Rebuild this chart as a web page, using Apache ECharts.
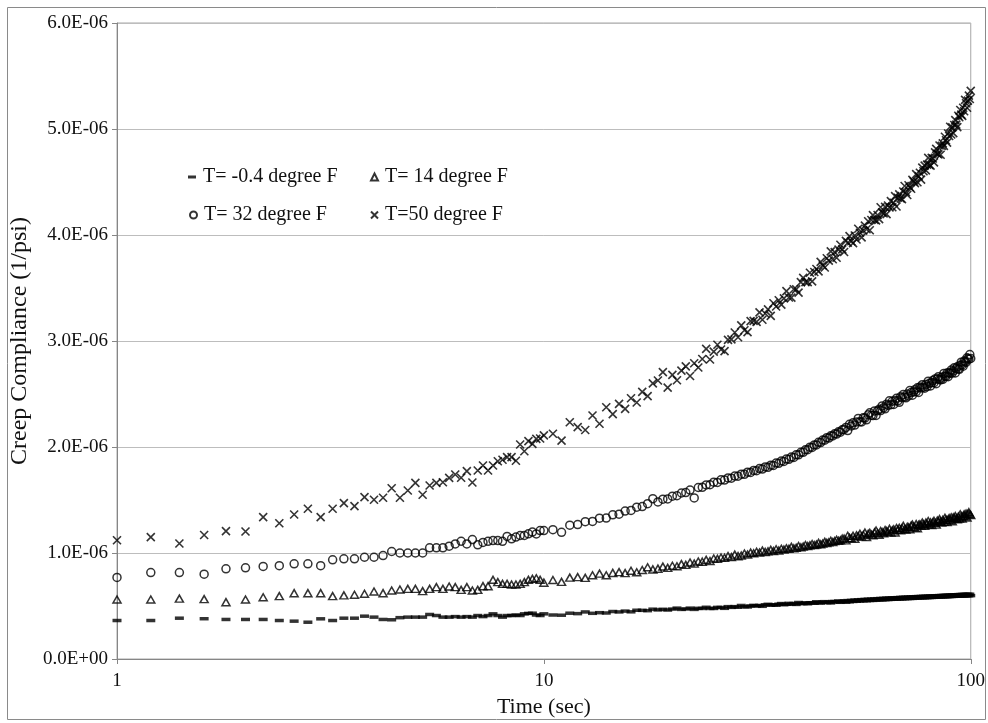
<!DOCTYPE html>
<html>
<head>
<meta charset="utf-8">
<script src="https://cdn.jsdelivr.net/npm/echarts@6/dist/echarts.min.js"></script>
<style>
html,body{margin:0;padding:0;background:#fff;}
#chart{width:988px;height:723px;}
</style>
</head>
<body>
<div id="chart"></div>
<script>
// Time (sec)
const timeSec = [
1,1.2,1.4,1.6,1.8,2,2.2,2.4,2.6,2.8,3,3.2,3.4,3.6,3.8,4,4.2,4.4,4.6,4.8,5,5.2,5.4,5.6,5.8,6,6.2,6.4,6.6,6.8,7,7.2,7.4,7.6,7.8,8,8.2,8.4,8.6,8.8,9,9.2,9.4,9.6,9.8,10,
10.5,11,11.5,12,12.5,13,13.5,14,14.5,15,15.5,16,16.5,17,17.5,18,18.5,19,19.5,20,20.5,21,21.5,22,22.5,23,23.5,24,24.5,25,25.5,26,26.5,27,27.5,28,28.5,29,29.5,30,
30.5,31,31.5,32,32.5,33,33.5,34,34.5,35,35.5,36,36.5,37,37.5,38,38.5,39,39.5,40,40.5,41,41.5,42,42.5,43,43.5,44,44.5,45,45.5,46,46.5,47,47.5,48,48.5,49,49.5,50,
50.5,51,51.5,52,52.5,53,53.5,54,54.5,55,55.5,56,56.5,57,57.5,58,58.5,59,59.5,60,60.5,61,61.5,62,62.5,63,63.5,64,64.5,65,65.5,66,66.5,67,67.5,68,68.5,69,69.5,70,
70.5,71,71.5,72,72.5,73,73.5,74,74.5,75,75.5,76,76.5,77,77.5,78,78.5,79,79.5,80,80.5,81,81.5,82,82.5,83,83.5,84,84.5,85,85.5,86,86.5,87,87.5,88,88.5,89,89.5,90,
90.5,91,91.5,92,92.5,93,93.5,94,94.5,95,95.5,96,96.5,97,97.5,98,98.5,99,99.5,100
];

// Creep compliance, read in units of 1E-06 1/psi
const compTm04 = [
.363,.363,.385,.38,.373,.373,.373,.363,.357,.347,.379,.363,.385,.385,.404,.395,.373,.37,.39,.395,.395,.395,.42,.41,.395,.395,.4,.395,.4,.395,.41,.4,.41,.426,.41,.395,.41,.41,.415,.41,.426,.43,.432,.415,.41,.426,
.415,.413,.432,.428,.444,.431,.437,.434,.448,.444,.452,.445,.46,.459,.456,.47,.463,.469,.462,.471,.48,.468,.472,.48,.468,.478,.477,.488,.477,.477,.487,.486,.478,.494,.487,.494,.488,.505,.494,.491,
.501,.506,.5,.505,.497,.511,.516,.508,.512,.507,.517,.523,.512,.516,.525,.517,.523,.515,.533,.524,.523,.53,.521,.531,.53,.526,.54,.531,.528,.536,.541,.532,.537,.529,.542,.542,.538,.547,.535,.543,
.548,.536,.551,.54,.553,.543,.556,.545,.558,.547,.56,.549,.562,.55,.564,.552,.565,.553,.567,.555,.569,.557,.571,.558,.572,.56,.574,.561,.575,.563,.577,.564,.578,.565,.579,.566,.581,.567,.582,.569,
.583,.57,.584,.571,.586,.572,.587,.573,.588,.575,.589,.576,.59,.577,.591,.578,.592,.579,.593,.58,.594,.581,.595,.582,.596,.583,.597,.584,.598,.585,.599,.586,.6,.587,.601,.588,.602,.589,.603,.59,
.604,.591,.605,.592,.606,.593,.607,.594,.608,.594,.609,.595,.609,.596,.61,.596,.611,.597,.611,.598
];
const compT14 = [
.561,.561,.57,.565,.536,.561,.583,.593,.621,.621,.621,.593,.6,.606,.615,.637,.621,.646,.656,.662,.662,.64,.662,.678,.662,.684,.678,.652,.678,.646,.652,.687,.687,.747,.725,.709,.709,.703,.703,.709,.725,.747,.756,.762,.747,.72,
.745,.728,.768,.772,.765,.79,.805,.79,.812,.82,.81,.832,.818,.84,.866,.845,.852,.872,.86,.88,.875,.895,.888,.91,.9,.92,.918,.935,.925,.948,.945,.958,.955,.97,.962,.985,.97,.976,.995,.985,
1.003,.998,1.012,1.005,1.022,1.01,1.015,1.03,1.018,1.035,1.022,1.04,1.032,1.045,1.04,1.058,1.044,1.05,1.066,1.054,1.06,1.075,1.065,1.072,1.085,1.076,1.08,1.095,1.083,1.09,1.105,1.095,1.1,1.115,1.104,1.112,1.125,1.114,1.12,1.135,
1.137,1.119,1.163,1.143,1.139,1.162,1.134,1.166,1.158,1.181,1.156,1.17,1.192,1.15,1.181,1.191,1.173,1.167,1.194,1.212,
1.186,1.172,1.207,1.197,1.187,1.217,1.208,1.198,1.228,1.194,1.213,1.223,1.194,1.236,1.219,1.237,1.215,1.233,1.256,1.226,
1.221,1.247,1.242,1.224,1.258,1.268,1.247,1.241,1.272,1.234,1.265,1.271,1.257,1.287,1.27,1.256,1.286,1.272,1.302,1.268,
1.29,1.264,1.29,1.304,1.282,1.268,1.307,1.297,1.319,1.297,1.287,1.313,1.295,1.333,1.315,1.293,1.315,1.329,1.311,1.337,
1.299,1.337,1.327,1.349,1.328,1.318,1.344,1.326,1.365,1.347,1.326,1.349,1.364,1.346,1.373,1.335,1.37,1.385,1.364,1.358
];
const compT32 = [
.77,.815,.815,.8,.851,.86,.873,.88,.898,.898,.88,.936,.945,.945,.96,.96,.976,1.014,1,1,1,1,1.049,1.049,1.049,1.064,1.086,1.111,1.086,1.127,1.077,1.1,1.11,1.117,1.117,1.11,1.156,1.134,1.15,1.165,1.165,1.181,1.197,1.18,1.212,1.212,
1.22,1.195,1.262,1.268,1.295,1.298,1.328,1.33,1.36,1.366,1.396,1.402,1.432,1.438,1.465,1.512,1.482,1.508,1.51,1.536,1.54,1.566,1.57,1.594,1.52,1.618,1.62,1.642,1.644,1.668,1.666,1.69,1.688,1.708,1.706,1.726,1.724,1.744,1.742,1.762,
1.76,1.779,1.776,1.796,1.792,1.812,1.808,1.828,1.826,1.848,1.846,1.868,1.864,1.886,1.884,1.905,1.902,1.926,1.926,1.95,1.95,1.974,1.974,1.998,1.996,2.02,2.02,2.044,2.042,2.066,2.064,2.088,2.084,2.106,2.104,2.125,2.122,2.144,2.14,2.162,
2.166,2.185,2.155,2.214,2.199,2.228,2.207,2.236,2.27,2.239,2.237,2.275,2.273,2.256,2.304,2.322,2.3,2.297,2.34,2.298,
2.342,2.355,2.344,2.387,2.371,2.36,2.404,2.392,2.436,2.399,2.431,2.402,2.439,2.46,2.436,2.422,2.474,2.465,2.496,2.472,
2.464,2.5,2.481,2.532,2.513,2.489,2.52,2.541,2.522,2.558,2.514,2.565,2.557,2.588,2.564,2.555,2.59,2.57,2.621,2.601,
2.576,2.606,2.627,2.607,2.642,2.597,2.643,2.663,2.638,2.633,2.658,2.638,2.694,2.67,2.666,2.697,2.663,2.704,2.695,2.726,
2.697,2.717,2.748,2.699,2.74,2.756,2.737,2.733,2.772,2.8,2.774,2.762,2.811,2.804,2.798,2.841,2.835,2.828,2.872,2.835
];
const compT50 = [
1.12,1.15,1.09,1.17,1.206,1.203,1.338,1.281,1.363,1.417,1.338,1.417,1.47,1.442,1.527,1.502,1.521,1.611,1.521,1.59,1.662,1.549,1.637,1.662,1.668,1.709,1.741,1.71,1.772,1.665,1.778,1.825,1.778,1.825,1.866,1.88,1.904,1.904,1.87,2.024,1.96,2.055,2.03,2.077,2.08,2.11,
2.125,2.06,2.234,2.187,2.16,2.297,2.219,2.375,2.31,2.407,2.36,2.46,2.42,2.52,2.48,2.6,2.627,2.706,2.56,2.68,2.63,2.72,2.76,2.67,2.79,2.75,2.83,
2.926,2.825,2.9,2.965,2.92,2.905,3.01,3.015,3.08,3.035,3.148,3.101,3.084,3.187,3.19,3.18,3.27,3.2,3.259,3.298,
3.237,3.356,3.325,3.384,3.343,3.402,3.471,3.41,3.409,3.488,3.487,3.456,3.556,3.596,3.555,3.555,3.644,3.562,3.651,3.679,
3.657,3.746,3.714,3.693,3.781,3.758,3.845,3.771,3.838,3.785,3.862,3.908,3.865,
3.84,3.945,3.927,3.989,3.941,3.923,3.995,3.957,4.059,4.021,3.977,4.042,4.088,4.054,4.13,4.045,4.141,4.187,4.142,4.138,
4.189,4.15,4.262,4.213,4.204,4.265,4.197,4.278,4.259,4.32,4.262,4.304,4.367,4.269,4.351,4.383,4.346,4.338,4.41,4.462,
4.405,4.377,4.469,4.451,4.436,4.52,4.505,4.489,4.574,4.498,4.553,4.587,4.522,4.636,4.601,4.655,4.61,4.664,4.728,4.661,
4.655,4.728,4.722,4.685,4.779,4.812,4.766,4.76,4.844,4.757,4.841,4.864,4.841,4.927,4.894,4.871,4.958,4.934,5.021,4.948,
5.015,4.961,5.038,5.084,5.041,5.018,5.125,5.111,5.179,5.136,5.124,5.201,5.168,5.275,5.243,5.2,5.268,5.315,5.283,5.36
];

const seriesNames = ['T= -0.4 degree F', 'T= 14 degree F', 'T= 32 degree F', 'T=50 degree F'];
const yTicks = [0, 1e-6, 2e-6, 3e-6, 4e-6, 5e-6, 6e-6];

const UNIT = 1e-6;
const FONT = "'Liberation Serif','Times New Roman',serif";
const CROSS = 'path://M0,0L10,10M10,0L0,10';

function pairs(vals) { return timeSec.map((t, i) => [t, vals[i] * UNIT]); }
function fmtE(v) {
  const s = v.toExponential(1).split('e');
  const e = s[1];
  const sign = e[0] === '-' ? '-' : '+';
  const digits = e.replace(/^[+-]/, '').padStart(2, '0');
  return s[0] + 'E' + sign + digits;
}

const hollow = { color: 'rgba(0,0,0,0)', borderColor: '#000', borderWidth: 1.5 };

const chart = echarts.init(document.getElementById('chart'), null, { renderer: 'canvas' });
const legendBase = {
  orient: 'horizontal', padding: 0, itemGap: 0, selectedMode: false,
  textStyle: { fontFamily: FONT, fontSize: 20, color: '#111', padding: [0,0,0,2] }
};
chart.setOption({
  animation: false,
  backgroundColor: '#fff',
  graphic: [{
    type: 'rect', left: 5, top: 5, silent: true,
    shape: { width: 978, height: 712 },
    style: { fill: 'none', stroke: '#8a8a8a', lineWidth: 1 }
  }],
  grid: {
    left: 117, right: 17, top: 23, bottom: 64,
    show: true, borderColor: '#a6a6a6', borderWidth: 1, containLabel: false
  },
  legend: [
    Object.assign({}, legendBase, { data: [seriesNames[0]], left: 188, top: 167, itemWidth: 8, itemHeight: 3 }),
    Object.assign({}, legendBase, { data: [seriesNames[1]], left: 370, top: 167, itemWidth: 7, itemHeight: 7 }),
    Object.assign({}, legendBase, { data: [seriesNames[2]], left: 189, top: 205, itemWidth: 7, itemHeight: 7 }),
    Object.assign({}, legendBase, { data: [seriesNames[3]], left: 370, top: 205, itemWidth: 7, itemHeight: 7 })
  ],
  xAxis: {
    type: 'log', logBase: 10, min: 1, max: 100,
    name: 'Time (sec)', nameLocation: 'middle', nameGap: 37,
    nameTextStyle: { fontFamily: FONT, fontSize: 22, color: '#111' },
    axisLine: { show: true, lineStyle: { color: '#868686', width: 1 } },
    axisTick: { show: true, length: 5, lineStyle: { color: '#868686' } },
    minorTick: { show: false },
    splitLine: { show: false },
    axisLabel: { fontFamily: FONT, fontSize: 19, color: '#111', margin: 13 }
  },
  yAxis: {
    type: 'value', min: yTicks[0], max: yTicks[yTicks.length - 1], interval: yTicks[1] - yTicks[0],
    name: 'Creep Compliance (1/psi)', nameLocation: 'middle', nameGap: 79,
    nameTextStyle: { fontFamily: FONT, fontSize: 24, color: '#111' },
    axisLine: { show: true, lineStyle: { color: '#868686', width: 1 } },
    axisTick: { show: true, length: 5, lineStyle: { color: '#868686' } },
    splitLine: { show: true, lineStyle: { color: '#bdbdbd', width: 1 } },
    axisLabel: { fontFamily: FONT, fontSize: 19, color: '#111', margin: 9, formatter: fmtE }
  },
  series: [
    { name: seriesNames[0], type: 'scatter', data: pairs(compTm04), symbol: 'rect', symbolSize: [9, 3.5],
      itemStyle: { color: '#000' }, emphasis: { disabled: true } },
    { name: seriesNames[1], type: 'scatter', data: pairs(compT14), symbol: 'triangle', symbolSize: [8, 7],
      itemStyle: hollow, emphasis: { disabled: true } },
    { name: seriesNames[2], type: 'scatter', data: pairs(compT32), symbol: 'circle', symbolSize: 8,
      itemStyle: hollow, emphasis: { disabled: true } },
    { name: seriesNames[3], type: 'scatter', data: pairs(compT50), symbol: CROSS, symbolSize: 8,
      itemStyle: { color: 'rgba(0,0,0,0)', borderColor: '#000', borderWidth: 1.6 }, emphasis: { disabled: true } }
  ]
});
</script>
</body>
</html>
